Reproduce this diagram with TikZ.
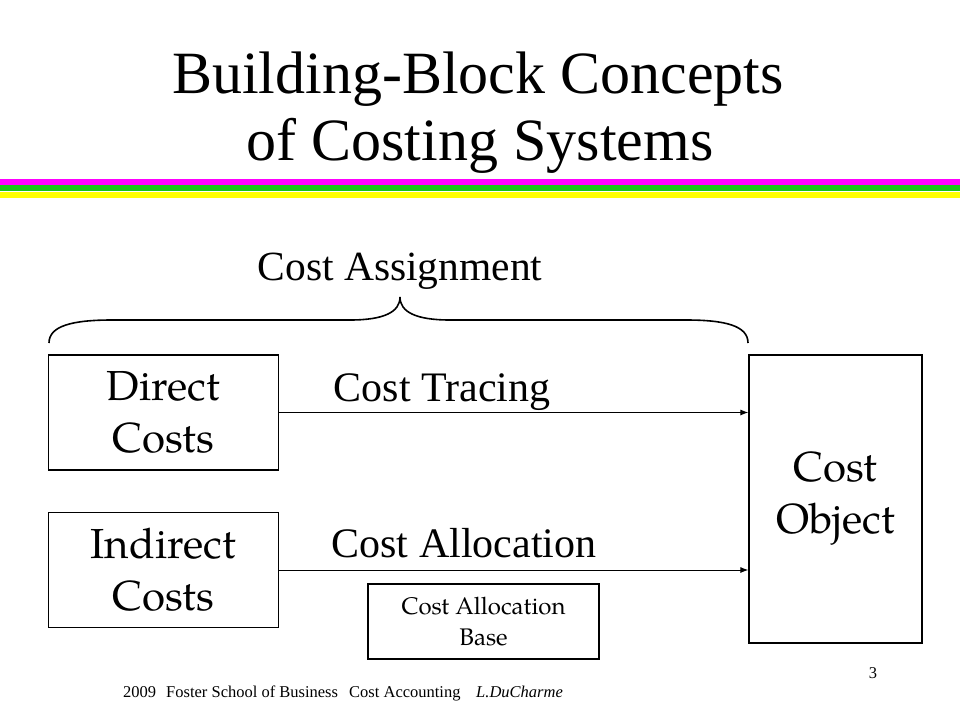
\documentclass[tikz,border=0pt]{standalone}
\usepackage{fontspec}
\setmainfont{Liberation Serif}
\newfontfamily\pala{texgyrepagella}[Extension=.otf, UprightFont=*-regular, ItalicFont=*-italic]
\usetikzlibrary{arrows.meta}

\definecolor{stripemag}{RGB}{255,0,255}
\definecolor{stripegrn}{RGB}{24,196,24}
\definecolor{stripeyel}{RGB}{255,255,0}

\tikzset{
	costbox/.style={draw, line width=1.2pt, inner sep=0pt, align=center},
	bigtext/.style={font=\pala\fontsize{42}{52}\selectfont},
	smalltext/.style={font=\pala\fontsize{24}{31}\selectfont},
	labeltext/.style={font=\fontsize{42}{46}\selectfont, anchor=base},
	foot/.style={font=\fontsize{16.5}{18}\selectfont, anchor=base west, inner sep=0pt},
	flow/.style={line width=1pt, -{Latex[length=8pt, width=6pt]}}
}

\begin{document}
\begin{tikzpicture}[x=1pt, y=-1pt]
	
	\useasboundingbox (0, 0) rectangle (960, 720);
	
	% title and stripes
	\node[font=\fontsize{60}{67}\selectfont, anchor=base] at (478, 93) (title1) {Building-Block Concepts};
	\node[font=\fontsize{60}{67}\selectfont, anchor=base] at (480, 160) (title2) {of Costing Systems};
	
	\fill[stripemag] (0, 179) rectangle (960, 185);
	\fill[stripegrn] (0, 185) rectangle (960, 191);
	\fill[stripeyel] (0, 192) rectangle (960, 198);
	
	% boxes
	\node[costbox, bigtext, minimum width=230pt, minimum height=115pt] at (163.5, 412.5) (direct) {Direct\\Costs};
	\node[costbox, bigtext, minimum width=230pt, minimum height=115pt] at (163.5, 570) (indirect) {Indirect\\Costs};
	\node[costbox, bigtext, minimum width=173pt, minimum height=288pt] at (835.5, 499) (object) {Cost\\Object};
	\node[costbox, smalltext, minimum width=231pt, minimum height=75pt] at (483.5, 621.5) (base) {Cost Allocation\\Base};
	
	% labels
	\node[labeltext, font=\fontsize{41.5}{46}\selectfont] at (400, 280) (assign) {Cost Assignment};
	\node[labeltext] at (442, 401) (tracing) {Cost Tracing};
	\node[labeltext] at (464, 557) (alloc) {Cost Allocation};
	
	% brace
	\draw[line width=1.6pt] (49, 343) .. controls (49, 326) and (72, 320) .. (112, 320)
		-- (350, 320) .. controls (384, 320) and (400, 312) .. (400, 297)
		.. controls (400, 312) and (416, 320) .. (450, 320)
		-- (686, 320) .. controls (726, 320) and (748, 326) .. (748, 343);
	
	% arrows
	\draw[flow] (direct.east) -- (direct.east -| object.west);
	\draw[flow] (indirect.east) -- (indirect.east -| object.west);
	
	% footer
	\node[foot] at (123, 697) (year) {2009};
	\node[foot] at (166, 697) (school) {Foster School of Business};
	\node[foot] at (349, 697) (course) {Cost Accounting};
	\node[foot] at (476, 697) (author) {\textit{L.DuCharme}};
	\node[foot, anchor=base] at (873, 678) (page) {3};
	
\end{tikzpicture}
\end{document}
